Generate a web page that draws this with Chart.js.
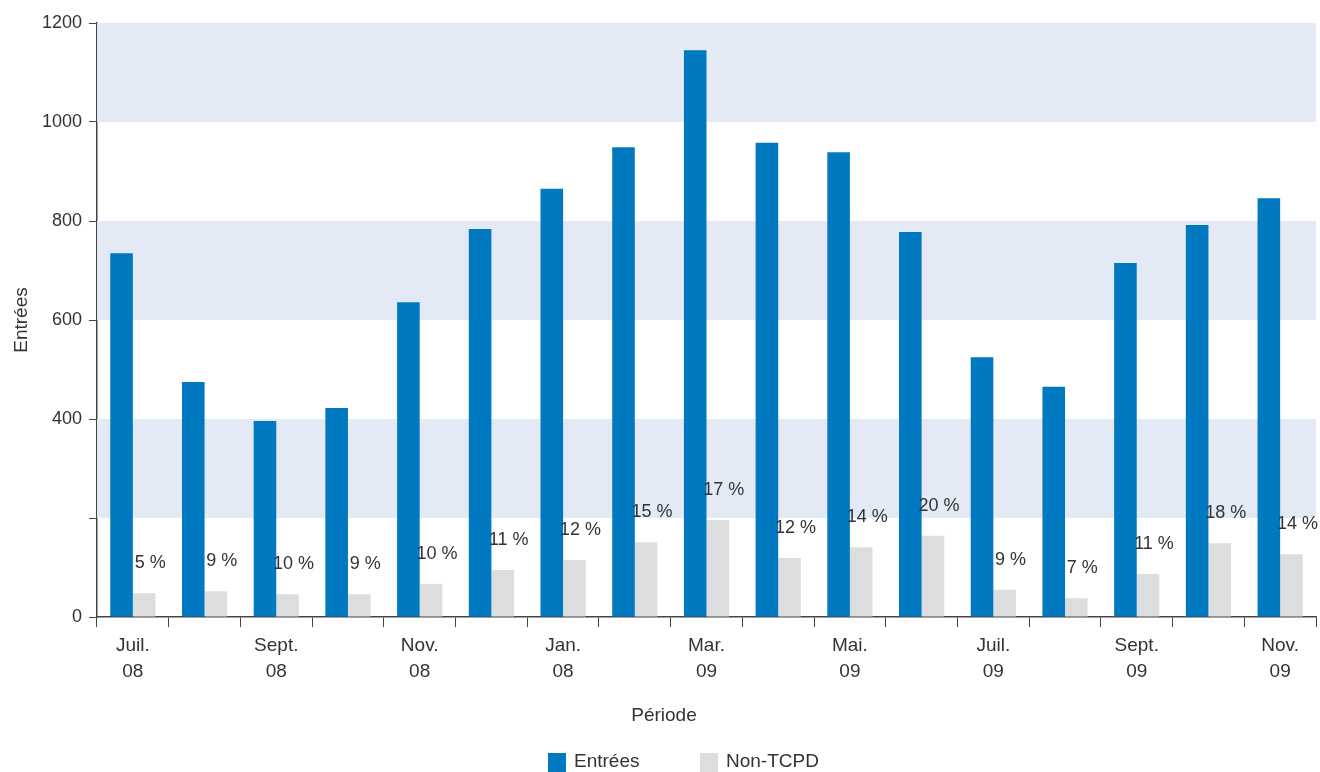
<!DOCTYPE html>
<html>
<head>
<meta charset="utf-8">
<script src="https://cdn.jsdelivr.net/npm/chart.js@4"></script>
<style>
html,body{margin:0;padding:0;background:#fff;}
#wrap{width:1320px;height:772px;position:relative;}
</style>
</head>
<body>
<div id="wrap"><canvas id="c" width="1320" height="772"></canvas></div>
<script>
const categories = ['Juil. 08','Août 08','Sept. 08','Oct. 08','Nov. 08','Déc. 08','Jan. 08','Févr. 09','Mar. 09','Avr. 09','Mai. 09','Juin 09','Juil. 09','Août 09','Sept. 09','Oct. 09','Nov. 09'];
const tickLabels = [['Juil.','08'],'',['Sept.','08'],'',['Nov.','08'],'',['Jan.','08'],'',['Mar.','09'],'',['Mai.','09'],'',['Juil.','09'],'',['Sept.','09'],'',['Nov.','09']];
const entrees = [735,475,396,422,636,784,865,949,1145,958,939,778,525,465,715,792,846];
const nonTCPD = [48,52,46,46,67,95,115,151,196,119,141,164,55,38,87,149,127];
const pctLabels = ['5 %','9 %','10 %','9 %','10 %','11 %','12 %','15 %','17 %','12 %','14 %','20 %','9 %','7 %','11 %','18 %','14 %'];
const yTicks = [0,200,400,600,800,1000,1200];
const yHiddenTicks = [200];
const bands = [[200,400],[600,800],[1000,1200]];

const FONT = "'Liberation Sans', Arial, sans-serif";
const TXT = '#333333';

const bandPlugin = {
  id: 'bands',
  beforeDatasetsDraw(chart) {
    const {ctx, chartArea, scales} = chart;
    ctx.save();
    ctx.fillStyle = '#e3eaf5';
    bands.forEach(([a,b]) => {
      const y1 = scales.y.getPixelForValue(b);
      const y2 = scales.y.getPixelForValue(a);
      ctx.fillRect(chartArea.left, y1, chartArea.right - chartArea.left, y2 - y1);
    });
    ctx.restore();
  }
};

const labelPlugin = {
  id: 'pct',
  afterDatasetsDraw(chart) {
    const {ctx} = chart;
    const meta = chart.getDatasetMeta(1);
    ctx.save();
    ctx.font = '18px ' + FONT;
    ctx.fillStyle = TXT;
    ctx.textAlign = 'center';
    ctx.textBaseline = 'middle';
    meta.data.forEach((bar, i) => {
      ctx.fillText(pctLabels[i], bar.x + 6, bar.y - 30);
    });
    // x axis title
    ctx.font = '19px ' + FONT;
    ctx.fillText('Période', 664, 716);
    // legend
    ctx.textAlign = 'left';
    const items = [{x: 548}, {x: 700}];
    chart.data.datasets.forEach((ds, i) => {
      ctx.fillStyle = ds.backgroundColor;
      ctx.fillRect(items[i].x, 753, 18, 19);
      ctx.fillStyle = TXT;
      ctx.fillText(ds.label, items[i].x + 26, 762);
    });
    ctx.restore();
  }
};

new Chart(document.getElementById('c'), {
  type: 'bar',
  data: {
    labels: categories,
    datasets: [
      {label: 'Entrées', data: entrees, backgroundColor: '#0079c1', categoryPercentage: 0.63, barPercentage: 1.0},
      {label: 'Non-TCPD', data: nonTCPD, backgroundColor: '#dcdddf', categoryPercentage: 0.63, barPercentage: 1.0}
    ]
  },
  options: {
    responsive: false,
    animation: false,
    devicePixelRatio: 1,
    layout: {padding: {top: 23, right: 4, left: 0, bottom: 0}},
    plugins: {
      legend: {display: false},
      tooltip: {enabled: false},
      title: {display: false}
    },
    scales: {
      x: {
        grid: {display: true, drawOnChartArea: false, drawTicks: true, tickLength: 10, color: '#444', offset: true},
        border: {display: true, color: '#444', width: 1.5},
        ticks: {
          autoSkip: false, maxRotation: 0, padding: 6,
          font: {family: FONT, size: 19, lineHeight: 1.35}, color: TXT,
          callback: (v, i) => tickLabels[i]
        },
        afterFit(scale) { scale.height = 155; }
      },
      y: {
        min: 0, max: 1200,
        afterBuildTicks(scale) { scale.ticks = yTicks.map(v => ({value: v})); },
        grid: {display: true, drawOnChartArea: false, drawTicks: true, tickLength: 8, color: '#444'},
        border: {display: true, color: '#444', width: 1.5},
        ticks: {
          padding: 7,
          font: {family: FONT, size: 18}, color: TXT,
          callback: (v) => yHiddenTicks.includes(v) ? '' : v
        },
        title: {display: true, text: 'Entrées', font: {family: FONT, size: 19}, color: TXT, padding: {top: 10, bottom: 0}},
        afterFit(scale) { scale.width = 97; }
      }
    }
  },
  plugins: [bandPlugin, labelPlugin]
});
</script>
</body>
</html>
